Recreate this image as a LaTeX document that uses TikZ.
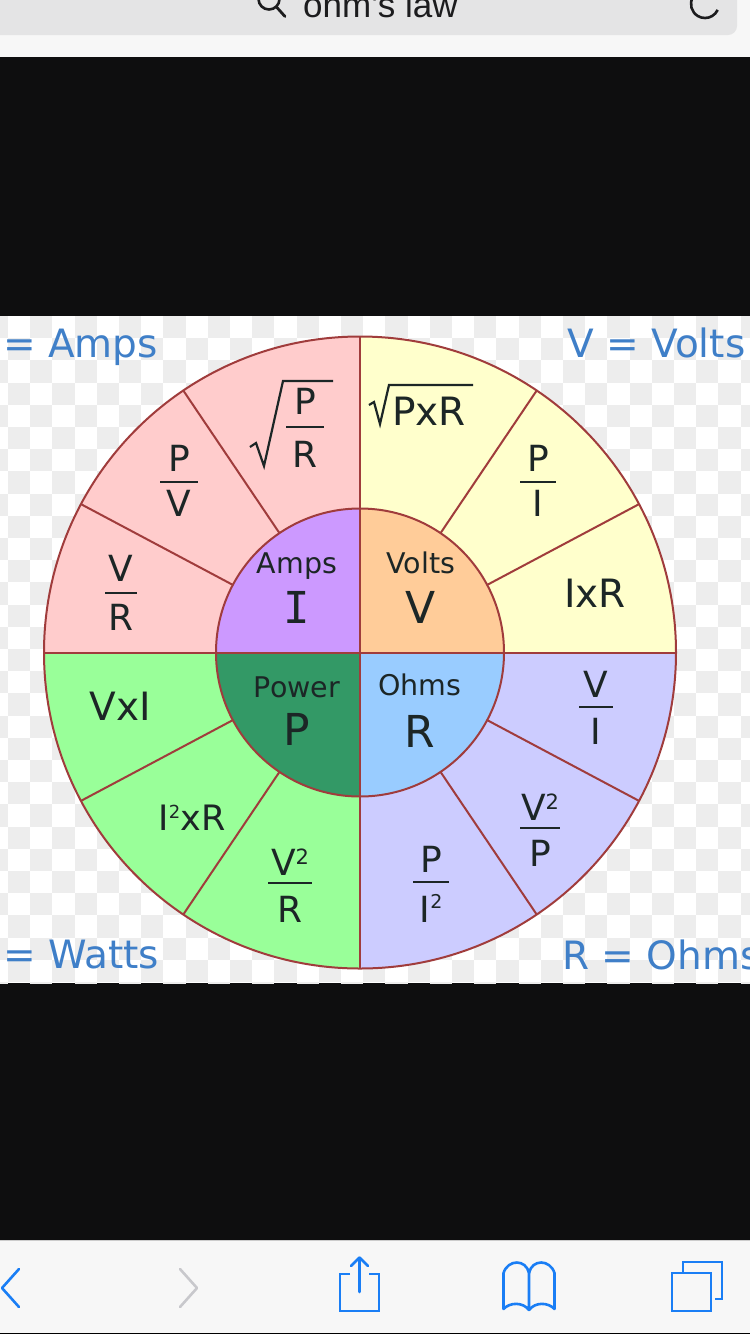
\documentclass[tikz,border=0pt]{standalone}
\usepackage{fontspec}
\setmainfont{DejaVu Sans}
\newfontfamily\ssf{Liberation Sans}
\newfontfamily\monof{DejaVu Sans Mono}
\definecolor{pinkc}{HTML}{FFCCCC}
\definecolor{yelc}{HTML}{FFFFCC}
\definecolor{grnc}{HTML}{99FF99}
\definecolor{lavc}{HTML}{CCCCFF}
\definecolor{purc}{HTML}{CC99FF}
\definecolor{orac}{HTML}{FFCC99}
\definecolor{dgrc}{HTML}{339966}
\definecolor{bluc}{HTML}{99CCFF}
\definecolor{linec}{HTML}{A03C3C}
\definecolor{labc}{HTML}{3F7FC8}
\definecolor{txtc}{HTML}{1C2626}
\definecolor{barbg}{HTML}{F7F7F7}
\definecolor{fieldbg}{HTML}{E4E4E5}
\definecolor{blk}{HTML}{0E0E0F}
\definecolor{chk}{HTML}{EDEDED}
\definecolor{iosblue}{HTML}{1A7EF5}
\definecolor{grayic}{HTML}{C8C8CC}
\definecolor{dark}{HTML}{1C1C1E}
\newcommand\suptwo[2]{\raisebox{#2pt}{\fontsize{#1}{#1}\selectfont 2}}
\tikzset{
  ftxt/.style={inner sep=0pt, anchor=base, text=txtc, font=\fontsize{36}{40}\selectfont},
  btxt/.style={inner sep=0pt, anchor=base, text=txtc, font=\fontsize{39}{44}\selectfont},
  itxt/.style={inner sep=0pt, anchor=base, text=txtc, font=\fontsize{28.5}{32}\selectfont},
  bigl/.style={inner sep=0pt, anchor=base, text=txtc, font=\fontsize{44}{50}\selectfont},
  clab/.style={inner sep=0pt, anchor=base west, text=labc, font=\fontsize{39}{44}\selectfont},
  fbar/.style={draw=txtc, line width=2.8},
  rad/.style={draw=txtc, line width=2.2, line join=miter},
  sep/.style={draw=linec, line width=2},
  ic/.style={draw=iosblue, line width=2.6, line cap=round, line join=round}
}
% name, x, ybar, ynum, yden, num, den, halfwidth
\newcommand\frc[8]{%
  \node[ftxt] (#1n) at (#2,#4) {#6};
  \node[ftxt] (#1d) at (#2,#5) {#7};
  \draw[fbar] (#2-#8,#3) -- (#2+#8,#3);}
\begin{document}
\begin{tikzpicture}[x=1pt,y=-1pt]
\useasboundingbox (0,0) rectangle (750,1334);
% ---------- top browser bar
\fill[barbg] (0,0) rectangle (750,57);
\fill[fieldbg, rounded corners=9pt] (-20,-20) rectangle (737,35);
\node[anchor=base west, inner sep=0pt, font=\ssf\fontsize{35}{40}\selectfont, text=dark] (query) at (303,17) {ohm's law};
\draw[dark, line width=2.6] (269,-1) circle[radius=10.5];
\draw[dark, line width=2.8, line cap=round] (276.5,7) -- (285,16.5);
\draw[dark, line width=2.6] (705,4) ++(-150:14) arc[start angle=-150, end angle=-335, radius=14];
% ---------- black bands
\fill[blk] (0,57) rectangle (750,316);
\fill[blk] (0,983) rectangle (750,1240);
% ---------- image area with checkerboard
\begin{scope}
\clip (0,316) rectangle (750,983);
\fill[white] (0,316) rectangle (750,983);
\foreach \i in {0,...,34}{\foreach \j in {0,...,30}{%
  \pgfmathtruncatemacro\pp{mod(\i+\j,2)}%
  \ifnum\pp=0 \fill[chk] (-14.2+22.2*\i,316+22.2*\j) rectangle ++(22.2,22.2);\fi}}
% sectors
\coordinate (C) at (360,652.5);
\fill[pinkc] (C) -- ++(180:316) arc[start angle=180,end angle=270,radius=316] -- cycle;
\fill[yelc] (C) -- ++(270:316) arc[start angle=270,end angle=360,radius=316] -- cycle;
\fill[lavc] (C) -- ++(0:316) arc[start angle=0,end angle=90,radius=316] -- cycle;
\fill[grnc] (C) -- ++(90:316) arc[start angle=90,end angle=180,radius=316] -- cycle;
\fill[purc] (C) -- ++(180:144) arc[start angle=180,end angle=270,radius=144] -- cycle;
\fill[orac] (C) -- ++(270:144) arc[start angle=270,end angle=360,radius=144] -- cycle;
\fill[bluc] (C) -- ++(0:144) arc[start angle=0,end angle=90,radius=144] -- cycle;
\fill[dgrc] (C) -- ++(90:144) arc[start angle=90,end angle=180,radius=144] -- cycle;
\draw[sep] (C) circle[radius=316];
\draw[sep] (C) circle[radius=144];
\draw[sep] (C) ++(-316,0) -- ++(632,0);
\draw[sep] (C) ++(0,-316) -- ++(0,632);
\foreach \a in {28,56,124,152,208,236,304,332}
  \draw[sep] (C) ++(\a:144) -- ++(\a:172);
% corner labels
\node[clab] (lamps) at (3,357) {= Amps};
\node[clab] (lvolts) at (567,357) {V = Volts};
\node[clab] (lwatts) at (3,968) {= Watts};
\node[clab] (lohms) at (562,969) {R = Ohms};
% --- top-left (Amps)
\frc{spr}{305}{427}{414}{467}{P}{R}{19}
\draw[rad] (250,447) -- (256,443) -- (264,466) -- (283,381) -- (333,381);
\frc{pv}{179}{482}{471}{516}{P}{V}{19}
\frc{vr}{121}{593}{581}{630}{V}{R}{16}
\node[itxt] (amps) at (297,573) {Amps};
\node[bigl, font=\monof\fontsize{44}{50}\selectfont] (ibig) at (297,623) {I};
% --- top-right (Volts)
\node[btxt] (pxr) at (429,425) {PxR};
\draw[rad] (369,405) -- (374,402) -- (380,424) -- (389,385) -- (473,385);
\frc{pi}{538}{482}{471}{516}{P}{I}{18}
\node[btxt] (ixr) at (595,607) {IxR};
\node[itxt] (volts) at (421,573) {Volts};
\node[bigl] (vbig) at (421,623) {V};
% --- bottom-left (Power)
\node[btxt] (vxi) at (120,720) {VxI};
\node[btxt, font=\fontsize{35}{40}\selectfont] (i2xr) at (192,830) {I\suptwo{18}{12}xR};
\frc{v2r}{290}{883}{875}{922}{V\suptwo{21}{11}}{R}{22}
\node[itxt] (power) at (297,697) {Power};
\node[bigl] (pbig) at (297,745) {P};
% --- bottom-right (Ohms)
\node[itxt] (ohms) at (420,695) {Ohms};
\node[bigl] (rbig) at (420,747) {R};
\frc{vi}{596}{707}{697}{744}{V}{I}{17}
\frc{v2p}{540}{828}{820}{866}{V\suptwo{21}{11}}{P}{20}
\frc{pi2}{431}{882}{872}{922}{P}{I\suptwo{19}{14}}{18}
\end{scope}
% ---------- bottom toolbar
\fill[barbg] (0,1240) rectangle (750,1334);
\draw[black!20, line width=1] (0,1240.5) -- (750,1240.5);
\fill[black] (0,1332.5) rectangle (750,1334);
\draw[ic] (19,1269) -- (2,1288) -- (19,1307);
\draw[ic, draw=grayic] (180,1269) -- (197,1288) -- (180,1307);
\draw[ic, line cap=butt, line join=miter] (350,1274) -- (340,1274) -- (340,1311) -- (379,1311) -- (379,1274) -- (369,1274);
\draw[ic] (359.5,1292) -- (359.5,1258);
\draw[ic] (351,1266) -- (359.5,1257.5) -- (368,1266);
\draw[ic] (529,1310) .. controls (523,1302) and (510,1302) .. (503.5,1309) -- (503.5,1273) .. controls (508,1259) and (526,1259) .. (529,1273) -- cycle;
\draw[ic] (529,1310) .. controls (535,1302) and (548,1302) .. (554.5,1309) -- (554.5,1273) .. controls (550,1259) and (532,1259) .. (529,1273);
\draw[ic, line cap=butt, line join=miter] (672,1273) rectangle (711,1311);
\draw[ic, line cap=butt, line join=miter] (683,1273) -- (683,1262) -- (722,1262) -- (722,1299) -- (715,1299);
\end{tikzpicture}
\end{document}
